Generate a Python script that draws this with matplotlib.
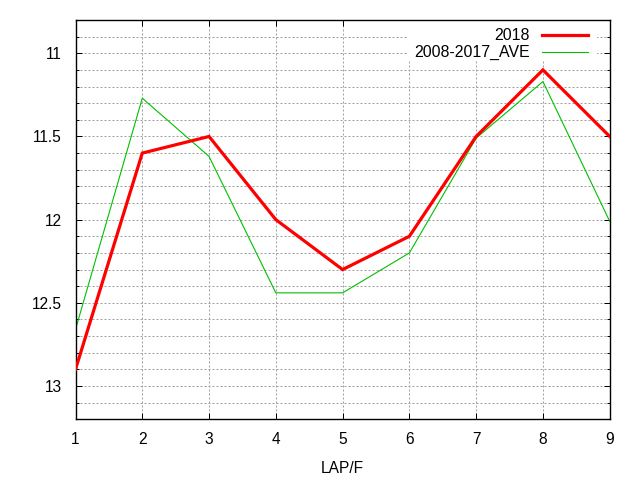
import matplotlib
matplotlib.use("Agg")
import matplotlib.pyplot as plt
from matplotlib.ticker import MultipleLocator
from matplotlib.patches import Rectangle

plt.rcParams['font.family'] = ['Liberation Sans', 'DejaVu Sans']

laps = [1, 2, 3, 4, 5, 6, 7, 8, 9]
y2018 = [12.9, 11.6, 11.5, 12.0, 12.3, 12.1, 11.5, 11.1, 11.5]
yave = [12.66, 11.27, 11.62, 12.44, 12.44, 12.2, 11.51, 11.17, 12.01]
labels = ["2018", "2008-2017_AVE"]

fig = plt.figure(figsize=(6.4, 4.8), dpi=100)
ax = fig.add_axes([75.5/640, (480-419.3)/480, 534.2/640, 399.3/480])

ax.plot(laps, y2018, color='#ff0000', lw=2.3, label=labels[0], solid_joinstyle='miter', zorder=3)
ax.plot(laps, yave, color='#00c000', lw=0.8, label=labels[1], zorder=2)

ax.set_xlim(1, 9)
ax.set_ylim(13.2, 10.8)
ax.xaxis.set_major_locator(MultipleLocator(1))
ax.yaxis.set_minor_locator(MultipleLocator(0.1))
ax.set_yticks([11, 11.5, 12, 12.5, 13])
ax.set_yticklabels(["11", "11.5", "12", "12.5", "13"])

ax.grid(True, which='major', color='#a0a0a0', lw=0.72, ls=(0, (2, 2)))
ax.grid(True, which='minor', axis='y', color='#a0a0a0', lw=0.72, ls=(0, (2, 2)))
ax.set_axisbelow(True)

# white key background hiding the grid, as in the reference
ax.add_patch(Rectangle((0.62, 0.9), 0.356, 0.1, transform=ax.transAxes,
                       facecolor='white', edgecolor='none', zorder=1))

ax.tick_params(which='major', direction='in', length=4, width=0.72, top=True, right=True,
               labelsize=11.2, pad=9, colors='black')
ax.tick_params(which='minor', direction='in', length=2.2, width=0.72, top=False, right=True)
ax.tick_params(axis='y', pad=10)
for s in ax.spines.values():
    s.set_linewidth(1.0)

ax.set_xlabel("LAP/F", fontsize=11.2, labelpad=10)

leg = ax.legend(loc='upper right', frameon=False, markerfirst=False, fontsize=11.4,
                handlelength=2.9, handletextpad=0.8, labelspacing=0.12,
                borderaxespad=0.0, bbox_to_anchor=(1 - 15/534.2, 1 - 2/399.3))

fig.savefig("out.png", dpi=100)
